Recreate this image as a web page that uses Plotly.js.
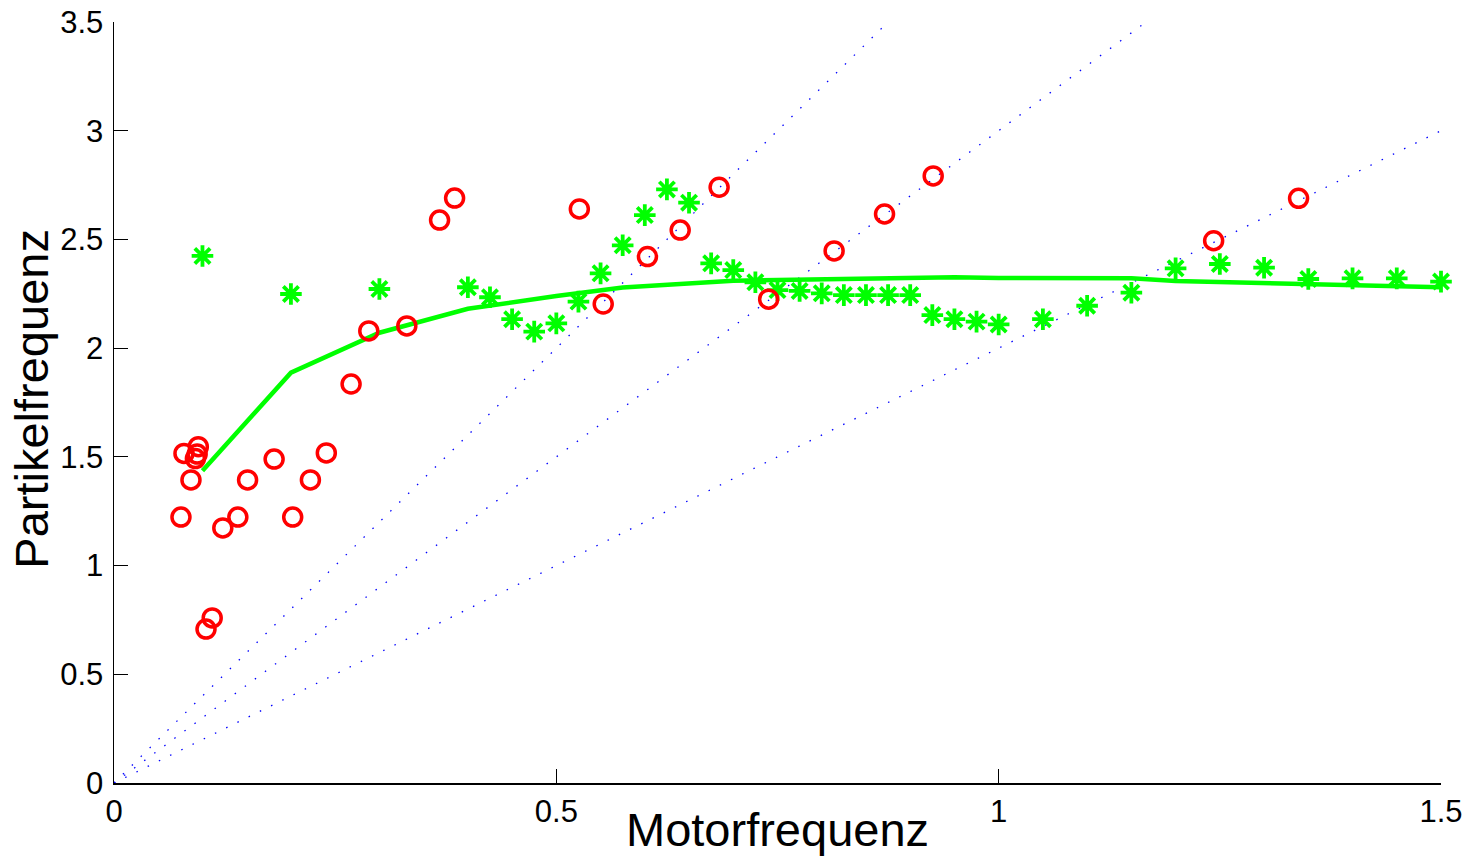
<!DOCTYPE html>
<html>
<head>
<meta charset="utf-8">
<script src="https://cdn.plot.ly/plotly-3.0.1.min.js"></script>
<style>html,body{margin:0;padding:0;background:#fff;}#chart{width:1477px;height:861px;}</style>
</head>
<body>
<div id="chart"></div>
<script>
// Red circles (Partikelfrequenz measurements)
const circleX = [0.0757,0.0791,0.087,0.0953,0.094,0.092,0.104,0.111,0.123,0.140,0.151,0.181,0.202,0.222,0.240,0.268,0.288,0.331,0.368,0.385,0.526,0.553,0.603,0.640,0.684,0.740,0.814,0.871,0.926,1.243,1.339];
const circleY = [1.223,1.516,1.394,1.547,1.513,1.492,0.708,0.759,1.173,1.223,1.394,1.490,1.223,1.394,1.518,1.835,2.079,2.102,2.589,2.690,2.640,2.203,2.421,2.543,2.740,2.225,2.447,2.617,2.792,2.494,2.689];

// Green stars
const starX = [0.1,0.2,0.3,0.4,0.425,0.45,0.475,0.5,0.525,0.55,0.575,0.6,0.625,0.65,0.675,0.7,0.725,0.75,0.775,0.8,0.825,0.85,0.875,0.9,0.925,0.95,0.975,1.0,1.05,1.1,1.15,1.2,1.25,1.3,1.35,1.4,1.45,1.5];
const starY = [2.424,2.249,2.272,2.280,2.234,2.133,2.076,2.114,2.214,2.344,2.473,2.612,2.730,2.669,2.390,2.359,2.303,2.267,2.263,2.252,2.244,2.244,2.244,2.244,2.152,2.133,2.122,2.109,2.133,2.195,2.255,2.367,2.387,2.370,2.318,2.321,2.321,2.306];

// Green solid curve
const curveX = [0.1,0.2,0.3,0.4,0.5,0.575,0.7,0.8,0.95,1.0,1.15,1.2,1.35,1.5];
const curveY = [1.436,1.887,2.071,2.181,2.240,2.279,2.310,2.316,2.326,2.323,2.321,2.309,2.296,2.280];

// Dotted reference lines y = k*x
const refSlopes = [2, 3, 4];
const refXEnd = [1.5, 3.5/3, 3.5/4];

// Ticks
const xTicks = [0, 0.5, 1, 1.5];
const yTicks = [0, 0.5, 1, 1.5, 2, 2.5, 3, 3.5];

const FONT = '"Liberation Sans", Arial, Helvetica, sans-serif';

const traces = [];
refSlopes.forEach((k, i) => {
  const xs = [0, refXEnd[i]];
  traces.push({
    x: xs, y: xs.map(v => k * v), type: 'scatter', mode: 'lines',
    line: {color: 'rgb(0,0,255)', width: 1.3, dash: '1.5px,11px'},
    hoverinfo: 'skip', showlegend: false
  });
});
traces.push({
  x: curveX, y: curveY, type: 'scatter', mode: 'lines',
  line: {color: 'rgb(0,255,0)', width: 4.5},
  showlegend: false
});
traces.push({
  x: starX, y: starY, type: 'scatter', mode: 'markers', cliponaxis: false,
  marker: {symbol: 'asterisk-open', size: 18, color: 'rgb(0,255,0)', line: {color: 'rgb(0,255,0)', width: 3.8}},
  showlegend: false
});
traces.push({
  x: circleX, y: circleY, type: 'scatter', mode: 'markers', cliponaxis: false,
  marker: {symbol: 'circle-open', size: 18, color: 'rgb(255,0,0)', line: {color: 'rgb(255,0,0)', width: 3.5}},
  showlegend: false
});

const layout = {
  width: 1477, height: 861,
  margin: {l: 114, r: 36, t: 22, b: 78},
  paper_bgcolor: '#fff', plot_bgcolor: '#fff',
  font: {family: FONT, color: '#000', size: 31},
  showlegend: false,
  xaxis: {
    range: [0, 1.5], tickvals: xTicks, ticktext: xTicks.map(String),
    ticks: 'inside', ticklen: 14, tickwidth: 1.2, tickcolor: '#000',
    showline: true, linecolor: '#000', linewidth: 1.5, mirror: false,
    showgrid: false, zeroline: false, ticklabelstandoff: 0,
    tickfont: {family: FONT, size: 31, color: '#000'}
  },
  yaxis: {
    range: [0, 3.5], tickvals: yTicks, ticktext: yTicks.map(String),
    ticks: 'inside', ticklen: 14, tickwidth: 1.2, tickcolor: '#000',
    showline: true, linecolor: '#000', linewidth: 1.5, mirror: false,
    showgrid: false, zeroline: false, ticklabelstandoff: 3,
    tickfont: {family: FONT, size: 31, color: '#000'}
  },
  annotations: [
    {text: 'Motorfrequenz', xref: 'paper', yref: 'paper', x: 0.5, y: 0,
     xanchor: 'center', yanchor: 'top', yshift: -18, showarrow: false,
     font: {family: FONT, size: 47, color: '#000'}},
    {text: 'Partikelfrequenz', xref: 'paper', yref: 'paper', x: 0, y: 0.505,
     xanchor: 'center', yanchor: 'middle', xshift: -82, textangle: -90, showarrow: false,
     font: {family: FONT, size: 47, color: '#000'}}
  ]
};

Plotly.newPlot('chart', traces, layout, {staticPlot: true, displayModeBar: false});
</script>
</body>
</html>
